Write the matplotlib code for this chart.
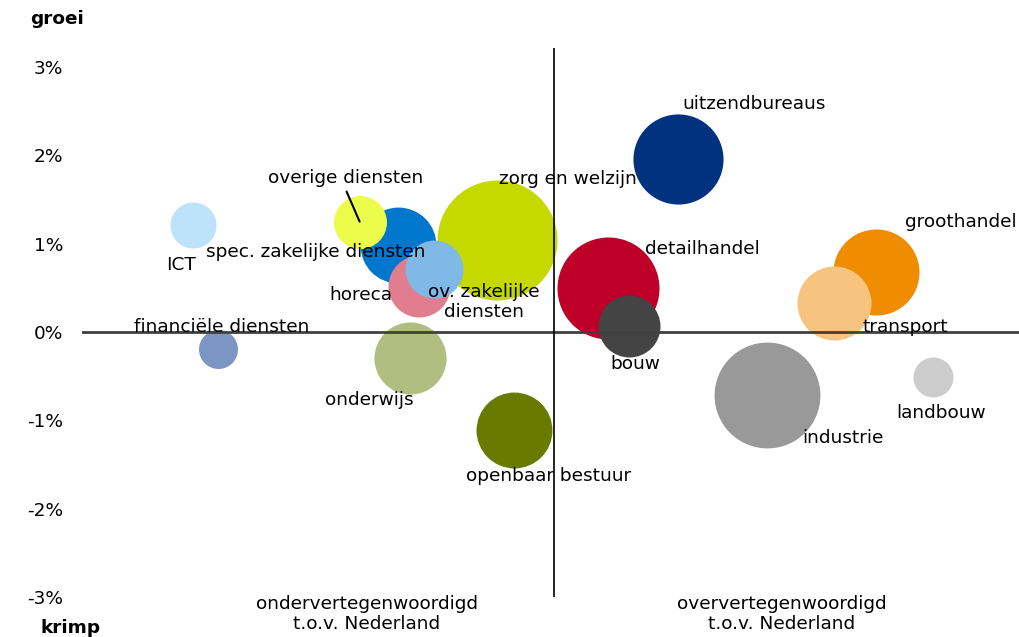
import numpy as np
import matplotlib
matplotlib.use("Agg")
import matplotlib.pyplot as plt

# sectoren: x = relatieve vertegenwoordiging (1 = gelijk aan Nederland), y = groei (%)
sectoren = ["ICT", "financiële diensten", "zorg en welzijn", "spec. zakelijke diensten",
            "overige diensten", "horeca", "ov. zakelijke\ndiensten", "uitzendbureaus",
            "detailhandel", "bouw", "onderwijs", "openbaar bestuur", "groothandel",
            "transport", "industrie", "landbouw"]
vertegenwoordiging = [0.549, 0.580, 0.929, 0.805, 0.757, 0.831, 0.850, 1.155,
                      1.068, 1.094, 0.820, 0.950, 1.402, 1.350, 1.266, 1.474]
groei = [1.21, -0.19, 1.04, 0.99, 1.25, 0.52, 0.71, 1.96,
         0.50, 0.07, -0.29, -1.11, 0.68, 0.33, -0.71, -0.51]
omvang = [5.3, 3.8, 36.0, 14.4, 7.0, 9.6, 8.4, 20.3,
          26.0, 9.6, 13.0, 14.4, 18.5, 13.7, 28.0, 4.0]
kleuren = ["#BDE3FB", "#7B96C2", "#C5D800", "#0077CC", "#ECFC4A", "#E07D8F", "#80B9E6",
           "#00327F", "#BE0029", "#444444", "#B2BD82", "#687A00", "#F08C00", "#F7C480",
           "#999999", "#CCCCCC"]
yticks = [-3, -2, -1, 0, 1, 2, 3]

# label offsets in pixels (center of text relative to bubble)
offsets = [(-12, -40), (4, 22), (71, 61), (-82, -7), (-14, 44), (-58, -9), (50, -33),
           (76, 55), (94, 39), (6, -38), (-41, -42), (35, -46), (85, 50), (71, -24),
           (76, -43), (8, -36)]

dpi = 100
fig = plt.figure(figsize=(10.19, 6.37), dpi=dpi)
ax = fig.add_axes([82 / 1019, 40 / 637, 937 / 1019, 549 / 637])
ax.set_xlim(1 - 472 / 800, 1 + 465 / 800)
ax.set_ylim(-3, 3 + 19 / 88.3)

radius_px = np.sqrt(np.array(omvang)) * 10
sizes = (2 * radius_px * 72 / dpi) ** 2
for x, y, s, c in zip(vertegenwoordiging, groei, sizes, kleuren):
    ax.scatter(x, y, s=s, color=c, linewidths=0, zorder=2)

ax.axhline(0, color="#404040", lw=2, zorder=3)
ax.axvline(1, color="black", lw=1.2, zorder=3)

fs = 13.3
for naam, x, y, (dx, dy) in zip(sectoren, vertegenwoordiging, groei, offsets):
    ax.annotate(naam, (x, y), xytext=(dx, dy), textcoords="offset pixels",
                ha="center", va="center", fontsize=fs, linespacing=1.15, zorder=4)

# lijntje naar overige diensten
i = sectoren.index("overige diensten")
ax.annotate("", (vertegenwoordiging[i], groei[i]), xytext=(-13, 30), textcoords="offset pixels",
            arrowprops=dict(arrowstyle="-", color="black", lw=1.5, shrinkA=0, shrinkB=0), zorder=4)

ax.set_xticks([])
ax.set_yticks(yticks)
ax.set_yticklabels([f"{t}%" for t in yticks], fontsize=fs)
ax.tick_params(axis="y", length=0, pad=13.5)
for sp in ax.spines.values():
    sp.set_visible(False)

fig.text(30 / 1019, 1 - 19 / 637, "groei", fontsize=fs, fontweight="bold", va="center", ha="left")
fig.text(40 / 1019, 1 - 628 / 637, "krimp", fontsize=fs, fontweight="bold", va="center", ha="left")
fig.text(367 / 1019, 1 - 614 / 637, "ondervertegenwoordigd\nt.o.v. Nederland", fontsize=fs,
         ha="center", va="center", linespacing=1.2)
fig.text(782 / 1019, 1 - 614 / 637, "oververtegenwoordigd\nt.o.v. Nederland", fontsize=fs,
         ha="center", va="center", linespacing=1.2)

fig.savefig("out.png", dpi=dpi)
